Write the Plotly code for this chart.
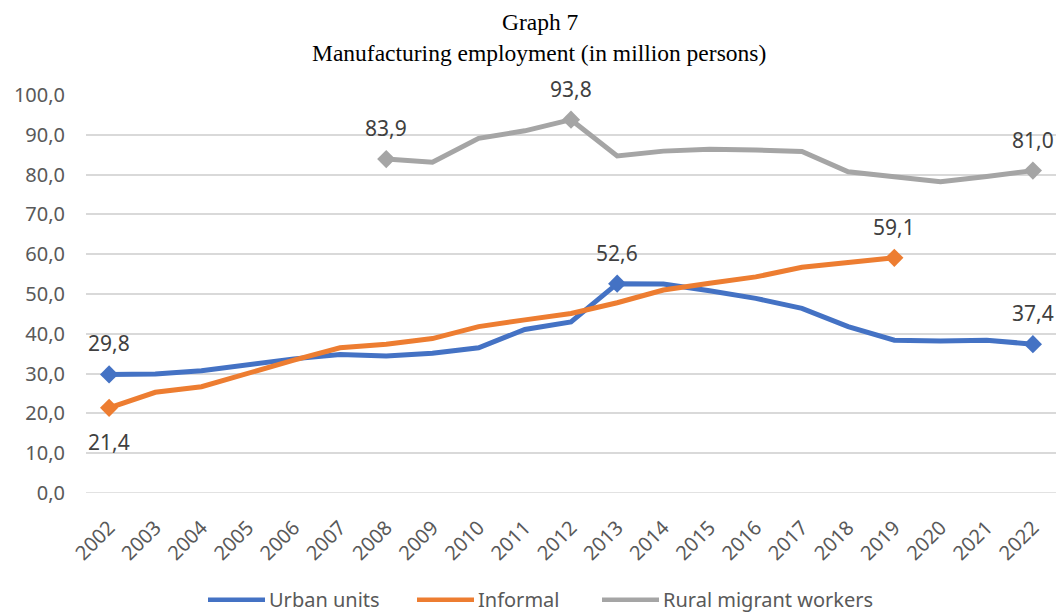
import plotly.graph_objects as go

years = [str(y) for y in range(2002, 2023)]
urban = [29.8, 29.9, 30.7, 32.3, 33.7, 34.8, 34.4, 35.1, 36.5, 41.1, 43.0,
         52.6, 52.5, 50.8, 48.9, 46.4, 41.8, 38.4, 38.2, 38.4, 37.4]
informal = [21.4, 25.3, 26.7, 30.1, 33.4, 36.5, 37.4, 38.8, 41.8, 43.5, 45.1,
            47.8, 51.0, 52.7, 54.3, 56.7, 58.0, 59.1, None, None, None]
rural = [None, None, None, None, None, None, 83.9, 83.1, 89.1, 91.0, 93.8,
         84.7, 85.9, 86.4, 86.2, 85.8, 80.7, 79.6, 78.2, 79.5, 81.0]

urban_lab = ["2002", "2013", "2022"]
informal_lab = ["2002", "2019"]
rural_lab = ["2008", "2012", "2022"]

y_ticks = [0, 10, 20, 30, 40, 50, 60, 70, 80, 90, 100]

fmt = lambda v: f"{v:.1f}".replace(".", ",")

series = [
    ("Urban units", urban, urban_lab, "#4472C4", {}),
    ("Informal", informal, informal_lab, "#ED7D31", {"2002": "below"}),
    ("Rural migrant workers", rural, rural_lab, "#A5A5A5", {}),
]

fig = go.Figure()
for name, vals, labs, col, pos in series:
    fig.add_trace(go.Scatter(
        x=years, y=vals, name=name, mode="lines",
        line=dict(color=col, width=5), connectgaps=False, showlegend=False,
    ))
for name, vals, labs, col, pos in series:
    ys = [vals[years.index(y)] for y in labs]
    fig.add_trace(go.Scatter(
        x=labs, y=ys, mode="markers", showlegend=False,
        marker=dict(symbol="diamond", size=14, color=col),
        cliponaxis=False, hoverinfo="skip",
    ))
    for xv, yv in zip(labs, ys):
        fig.add_annotation(
            x=years.index(xv), y=yv, text=fmt(yv), showarrow=False,
            yshift=-34 if pos.get(xv) == "below" else 31,
            font=dict(family="Noto Sans", size=21, color="#404040"),
        )

# title
fig.add_annotation(xref="paper", yref="paper", x=(540 - 86) / 970, y=1.183,
                   text="Graph 7", showarrow=False, yanchor="middle",
                   font=dict(family="Liberation Serif", size=23.5, color="black"))
fig.add_annotation(xref="paper", yref="paper", x=(539 - 86) / 970, y=1.105,
                   text="Manufacturing employment (in million persons)",
                   showarrow=False, yanchor="middle",
                   font=dict(family="Liberation Serif", size=23.5, color="black"))

# legend (custom, drawn in paper coordinates)
leg_items = [("Urban units", "#4472C4", 208), ("Informal", "#ED7D31", 417),
             ("Rural migrant workers", "#A5A5A5", 602)]
leg_y = -0.268
for name, col, px in leg_items:
    x0 = (px - 86) / 970
    x1 = (px + 57 - 86) / 970
    fig.add_shape(type="line", xref="paper", yref="paper", x0=x0, x1=x1,
                  y0=leg_y, y1=leg_y, line=dict(color=col, width=4.5))
    fig.add_annotation(xref="paper", yref="paper", x=(px + 59 - 86) / 970,
                       y=leg_y, xanchor="left", yanchor="middle",
                       text=name, showarrow=False,
                       font=dict(family="Noto Sans", size=20, color="#595959"))

fig.update_layout(
    width=1057, height=612,
    margin=dict(l=86, r=1, t=95, b=119),
    paper_bgcolor="white", plot_bgcolor="white",
    font=dict(family="Noto Sans", color="#595959"),
    xaxis=dict(
        type="category", range=[-0.5, 20.5], tickangle=-45,
        tickfont=dict(size=20, color="#595959"), showgrid=False,
        showline=False, ticks="", ticklabelstandoff=18,
    ),
    yaxis=dict(
        range=[0, 100], tickvals=y_ticks,
        ticktext=[fmt(v) for v in y_ticks],
        tickfont=dict(size=20, color="#595959"),
        gridcolor="#D9D9D9", gridwidth=1.5, zeroline=False, ticks="",
        showline=False, ticklabelstandoff=20,
    ),
    showlegend=False,
)
fig.add_shape(type="line", xref="paper", yref="y", x0=0, x1=1, y0=0, y1=0,
              line=dict(color="#D9D9D9", width=1.5))

fig.write_html("out.html")
